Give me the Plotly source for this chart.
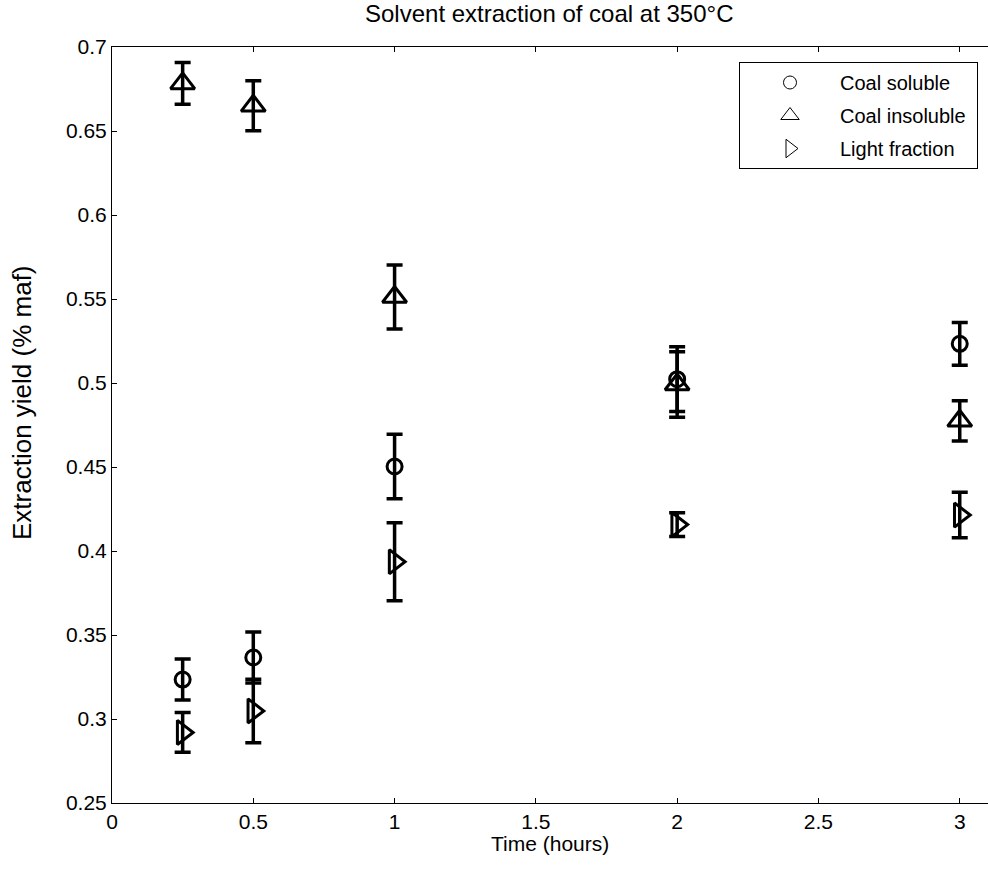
import plotly.graph_objects as go

time_h = [0.25, 0.5, 1, 2, 3]

soluble = [0.3235, 0.3366, 0.4503, 0.5023, 0.5233]
soluble_err = [0.0122, 0.0152, 0.0192, 0.0193, 0.0127]

insoluble = [0.6783, 0.6650, 0.5512, 0.4991, 0.4775]
insoluble_err = [0.0124, 0.0149, 0.0190, 0.0195, 0.0120]

light = [0.2920, 0.3048, 0.3936, 0.4157, 0.4214]
light_err = [0.0118, 0.0189, 0.0232, 0.0071, 0.0135]

names = ["Coal soluble", "Coal insoluble", "Light fraction"]
values = [soluble, insoluble, light]
errors = [soluble_err, insoluble_err, light_err]
symbols = ["circle-open", "triangle-up-open", "triangle-right-open"]
sizes = [15, 21, 21]
legend_sizes = [13, 16, 16]

x_ticks = [0, 0.5, 1, 1.5, 2, 2.5, 3]
x_tick_text = ["0", "0.5", "1", "1.5", "2", "2.5", "3"]
y_ticks = [0.25, 0.3, 0.35, 0.4, 0.45, 0.5, 0.55, 0.6, 0.65, 0.7]
y_tick_text = ["0.25", "0.3", "0.35", "0.4", "0.45", "0.5", "0.55", "0.6", "0.65", "0.7"]

FONT = "Liberation Sans, Arial, sans-serif"
W, H = 988, 881
L, R, T, B = 112, 0, 47, 78
PW, PH = W - L - R, H - T - B

fig = go.Figure()
for name, vals, errs, sym, sz in zip(names, values, errors, symbols, sizes):
    fig.add_trace(go.Scatter(
        x=time_h, y=vals, mode="markers", showlegend=False,
        marker=dict(symbol=sym, size=sz, color="black", line=dict(width=3, color="black")),
        error_y=dict(type="data", array=errs, visible=True, color="black", thickness=3.5, width=8),
    ))

for i, (name, sym, lsz) in enumerate(zip(names, symbols, legend_sizes)):
    fig.add_trace(go.Scatter(
        x=[None], y=[None], mode="markers", name=name + "\u00a0", legendgroup=f"g{i}",
        marker=dict(symbol=sym, size=lsz, color="black", line=dict(width=1, color="black")),
    ))

fig.update_layout(
    width=W, height=H,
    margin=dict(l=L, r=R, t=T, b=B),
    paper_bgcolor="white", plot_bgcolor="white",
    font=dict(family=FONT, size=21, color="black"),
    showlegend=True,
    legend=dict(x=(978 - L) / PW, y=1 - (62 - T) / PH, xanchor="right", yanchor="top",
                bgcolor="white", bordercolor="black", borderwidth=1,
                font=dict(size=20, family=FONT, color="black"),
                tracegroupgap=4, traceorder="grouped",
                itemwidth=90),
    annotations=[
        dict(text="Solvent extraction of coal at 350°C", xref="paper", yref="paper",
             x=(549 - L) / PW, y=1 + (T - 13) / PH, xanchor="center", yanchor="middle",
             showarrow=False, font=dict(size=24, family=FONT, color="black")),
        dict(text="Time (hours)", xref="paper", yref="paper",
             x=(550 - L) / PW, y=-(843 - (T + PH)) / PH, xanchor="center", yanchor="middle",
             showarrow=False, font=dict(size=21, family=FONT, color="black")),
        dict(text="Extraction yield (% maf)", xref="paper", yref="paper",
             x=-(L - 22) / PW, y=1 - (403 - T) / PH, xanchor="center", yanchor="middle",
             textangle=-90, showarrow=False, font=dict(size=26, family=FONT, color="black")),
    ],
)

fig.update_xaxes(
    range=[0, 3.1], tickvals=x_ticks, ticktext=x_tick_text,
    showline=True, linecolor="black", linewidth=1, mirror="ticks",
    ticks="inside", ticklen=5, tickcolor="black", tickwidth=1,
    showgrid=False, zeroline=False,
    tickfont=dict(size=21, family=FONT),
)
fig.update_yaxes(
    range=[0.25, 0.7], tickvals=y_ticks, ticktext=y_tick_text,
    showline=True, linecolor="black", linewidth=1, mirror=False,
    ticks="inside", ticklen=5, tickcolor="black", tickwidth=1,
    showgrid=False, zeroline=False,
    tickfont=dict(size=21, family=FONT),
)

fig.write_html("out.html")
